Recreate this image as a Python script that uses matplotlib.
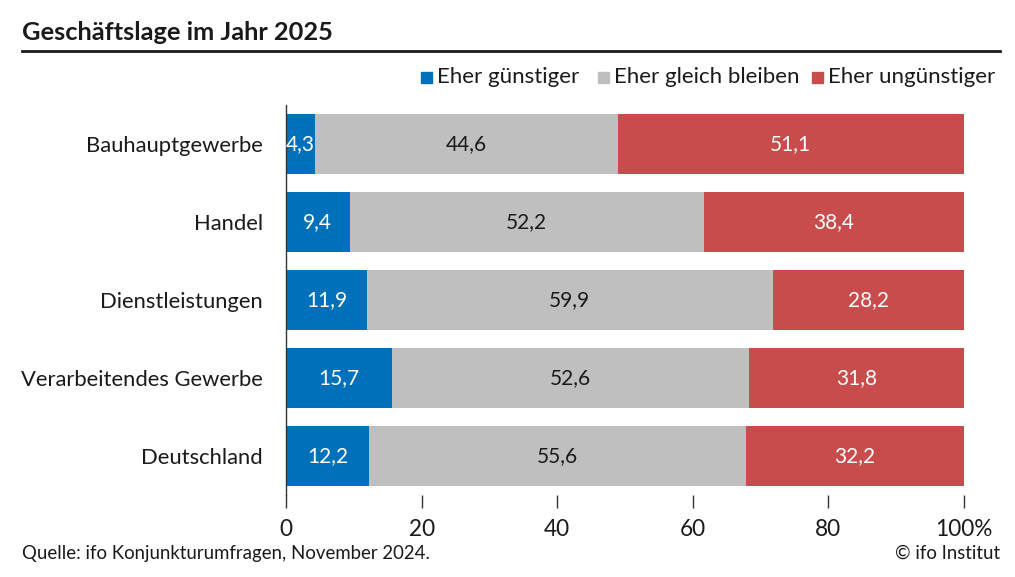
import matplotlib
matplotlib.use("Agg")
import matplotlib.pyplot as plt
from matplotlib.patches import Rectangle
from matplotlib.lines import Line2D

plt.rcParams['font.family'] = ['Lato', 'DejaVu Sans']

categories = ["Bauhauptgewerbe", "Handel", "Dienstleistungen", "Verarbeitendes Gewerbe", "Deutschland"]
guenstiger = [4.3, 9.4, 11.9, 15.7, 12.2]
gleich = [44.6, 52.2, 59.9, 52.6, 55.6]
unguenstiger = [51.1, 38.4, 28.2, 31.8, 32.2]
series_names = ["Eher günstiger", "Eher gleich bleiben", "Eher ungünstiger"]
colors = ["#0070BA", "#BFBFBF", "#C84C4C"]
text_colors = ["white", "#1a1a1a", "white"]
xticks = [0, 20, 40, 60, 80, 100]
xticklabels = ["0", "20", "40", "60", "80", "100%"]

fig = plt.figure(figsize=(10.15, 5.77), dpi=100)
ax = fig.add_axes([286/1015, 1-495/577, (964-286)/1015, 390/577])

ypos = list(range(len(categories)))
left = [0]*len(categories)
for vals, col, tc in zip([guenstiger, gleich, unguenstiger], colors, text_colors):
    ax.barh(ypos, vals, left=left, height=0.76, color=col, edgecolor='none')
    for y, v, l in zip(ypos, vals, left):
        ax.text(l + v/2, y, f"{v:.1f}".replace('.', ','), ha='center', va='center',
                color=tc, fontsize=15)
    left = [a + b for a, b in zip(left, vals)]

ax.set_xlim(0, 100)
ax.set_ylim(4.5, -0.5)
ax.set_yticks(ypos)
ax.set_yticklabels(categories, fontsize=15.8, color='#1a1a1a')
ax.tick_params(axis='y', length=0, pad=16.5)
ax.set_xticks(xticks)
ax.set_xticklabels(xticklabels, fontsize=16.3, color='#1a1a1a')
ax.tick_params(axis='x', length=9, width=1, color='#333333', pad=8, direction='out')
for s in ['top', 'right', 'bottom']:
    ax.spines[s].set_visible(False)
ax.spines['left'].set_color('#333333')
ax.spines['left'].set_linewidth(1)

# Title and rule
fig.text(22/1015, 1-32/577, "Geschäftslage im Jahr 2025", fontsize=18.3, fontweight='bold',
         ha='left', va='center', color='#1a1a1a')
fig.add_artist(Line2D([22/1015, 1000/1015], [1-51/577, 1-51/577], color='#1a1a1a', lw=2))

# Legend
leg_items = [(421, series_names[0], colors[0]), (598, series_names[1], colors[1]), (812, series_names[2], colors[2])]
for x, name, col in leg_items:
    fig.add_artist(Rectangle((x/1015, 1-83/577), 11/1015, 11/577, color=col, transform=fig.transFigure))
    fig.text((x+16)/1015, 1-77/577, name, fontsize=16, ha='left', va='center', color='#1a1a1a')

# Footer
fig.text(22/1015, 1-553/577, "Quelle: ifo Konjunkturumfragen, November 2024.", fontsize=13.4,
         ha='left', va='center', color='#1a1a1a')
fig.text(1000/1015, 1-553/577, "© ifo Institut", fontsize=13.4, ha='right', va='center', color='#1a1a1a')

fig.savefig("out.png", dpi=100)
